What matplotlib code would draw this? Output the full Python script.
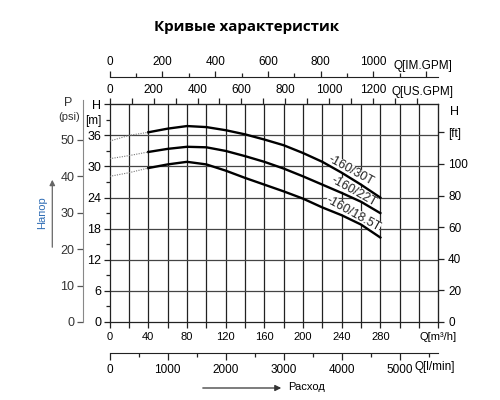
import matplotlib
matplotlib.use("Agg")
import matplotlib.pyplot as plt
from matplotlib.ticker import FixedLocator, FixedFormatter

plt.rcParams['font.family'] = ['Liberation Sans', 'DejaVu Sans']
plt.rcParams['font.size'] = 8

# данные кривых (Q в м3/ч, H в м)
q = [0, 20, 40, 60, 80, 100, 120, 140, 160, 180, 200, 220, 240, 260, 280]
h_30t = [34.9, 36.0, 36.6, 37.3, 37.8, 37.6, 37.0, 36.2, 35.2, 34.1, 32.6, 30.9, 28.8, 26.5, 24.0]
h_22t = [31.5, 32.1, 32.8, 33.4, 33.8, 33.7, 33.0, 32.0, 30.9, 29.6, 28.1, 26.5, 24.9, 23.2, 21.0]
h_185t = [28.1, 28.8, 29.7, 30.4, 30.9, 30.4, 29.2, 27.8, 26.5, 25.2, 23.8, 22.1, 20.6, 18.8, 16.3]
curve_names = ['-160/30T', '-160/22T', '-160/18.5T']
label_q = [249, 253, 252]
label_h = [29.2, 25.2, 20.9]

m_ticks = [0, 6, 12, 18, 24, 30, 36]
ft_ticks = [0, 20, 40, 60, 80, 100, 120]
ft_labels = ['0', '20', '40', '60', '80', '100', '[ft]']
psi_ticks = [0, 10, 20, 30, 40, 50]
q_labels = ['0', '', '40', '', '80', '', '120', '', '160', '', '200', '', '240', '', '280', '', '', 'Q[m³/h]']
usgpm_ticks = list(range(0, 1401, 200))
imgpm_ticks = list(range(0, 1201, 200))
lmin_ticks = list(range(0, 5001, 1000))

# коэффициенты пересчёта
M3H_USGPM = 4.4029
M3H_IMGPM = 3.6662
M3H_LMIN = 16.6667
M_FT = 3.28084
M_PSI = 1.42233

QMAX, HMAX = 340, 42
dark = '#222222'

fig = plt.figure(figsize=(5, 4), dpi=100)
ax = fig.add_axes([0.2194, 0.195, 0.6572, 0.5443])
ax.set_xlim(0, QMAX)
ax.set_ylim(0, HMAX)

# сетка
for x in range(20, QMAX, 20):
    ax.axvline(x, color=dark, lw=0.9, zorder=1)
for y in m_ticks[1:]:
    ax.axhline(y, color='#444444', lw=0.9, zorder=1)

# кривые
for h, name, lq, lh in zip([h_30t, h_22t, h_185t], curve_names, label_q, label_h):
    ax.plot(q[:3], h[:3], color='#777777', lw=0.8, ls=(0, (1, 1.2)), zorder=3)
    ax.plot(q[2:], h[2:], color='black', lw=1.7, zorder=4)
    ax.text(lq, lh, name, rotation=-29, rotation_mode='anchor', ha='center', va='center',
            fontsize=9, color=dark, zorder=3.5,
            bbox=dict(facecolor='white', edgecolor='none', pad=0.1))

for s in ax.spines.values():
    s.set_color(dark)
    s.set_linewidth(0.9)

# нижняя ось м3/ч
ax.set_xticks(range(0, QMAX + 1, 20))
ax.set_xticklabels(q_labels)
ax.tick_params(axis='x', direction='out', length=4, width=0.9, color=dark, pad=3, labelsize=8)

# левая ось H [m]
ax.yaxis.set_major_locator(FixedLocator(m_ticks + [42]))
ax.yaxis.set_major_formatter(FixedFormatter([str(v) for v in m_ticks] + ['H']))
ax.yaxis.set_minor_locator(FixedLocator([3, 9, 15, 21, 27, 33, 39]))
ax.yaxis.set_minor_formatter(FixedFormatter(['', '', '', '', '', '', '[m]']))
ax.tick_params(axis='y', which='major', direction='out', length=4, width=0.9, color=dark, pad=2, labelsize=9)
ax.tick_params(axis='y', which='minor', direction='out', length=3, width=0.9, color=dark, pad=3, labelsize=8.5)

# правая ось H [ft]
axr = ax.twinx()
axr.set_ylim(0, HMAX * M_FT)
axr.set_yticks(ft_ticks)
axr.set_yticklabels(ft_labels)
axr.tick_params(axis='y', direction='out', length=4, width=0.9, color=dark, pad=3, labelsize=8.5)
for k in ['top', 'left', 'bottom']:
    axr.spines[k].set_visible(False)
axr.spines['right'].set_color(dark)
axr.text(1.05, 0.965, 'H', transform=axr.transAxes, ha='center', va='center', fontsize=9)

# ось P (psi)
axp = ax.twinx()
axp.set_ylim(0, HMAX * M_PSI)
axp.yaxis.set_ticks_position('left')
axp.spines['left'].set_position(('outward', 19.5))
axp.spines['left'].set_bounds(0, 61)
axp.spines['left'].set_color('#888888')
for k in ['top', 'right', 'bottom']:
    axp.spines[k].set_visible(False)
axp.set_yticks(psi_ticks)
axp.tick_params(axis='y', direction='out', length=4, width=0.9, color='#555555', pad=2,
                labelsize=9, labelcolor='#333333')
axp.text(-0.127, 1.006, 'P', transform=axp.transAxes, ha='center', va='center', fontsize=9, color='#333333')
axp.text(-0.124, 0.943, '(psi)', transform=axp.transAxes, ha='center', va='center', fontsize=8, color='#333333')

# верхняя ось US.GPM
top_us = ax.secondary_xaxis('top', functions=(lambda x: x * M3H_USGPM, lambda x: x / M3H_USGPM))
top_us.set_xticks(usgpm_ticks)
top_us.set_xticklabels([str(v) for v in usgpm_ticks[:-1]] + [''])
top_us.xaxis.set_minor_locator(FixedLocator(range(100, 1401, 200)))
top_us.tick_params(which='major', direction='out', length=4, width=0.9, color=dark, pad=2, labelsize=8.5)
top_us.tick_params(which='minor', direction='out', length=4, width=0.9, color=dark)
top_us.spines['top'].set_color(dark)
ax.text(0.953, 1.055, 'Q[US.GPM]', transform=ax.transAxes, ha='center', va='center', fontsize=8.5)

# верхняя ось IM.GPM
top_im = ax.secondary_xaxis(1.127, functions=(lambda x: x * M3H_IMGPM, lambda x: x / M3H_IMGPM))
top_im.set_xticks(imgpm_ticks)
top_im.set_xticklabels([str(v) for v in imgpm_ticks[:-1]] + [''])
top_im.xaxis.set_minor_locator(FixedLocator(range(100, 1201, 200)))
top_im.tick_params(which='major', direction='out', length=4, width=0.9, color=dark, pad=2, labelsize=8.5)
top_im.tick_params(which='minor', direction='out', length=3, width=0.9, color=dark)
for s in top_im.spines.values():
    s.set_color(dark)
ax.text(0.953, 1.176, 'Q[IM.GPM]', transform=ax.transAxes, ha='center', va='center', fontsize=8.5)

# нижняя ось l/min
bot_l = ax.secondary_xaxis(-0.141, functions=(lambda x: x * M3H_LMIN, lambda x: x / M3H_LMIN))
bot_l.set_xticks(lmin_ticks)
bot_l.xaxis.set_minor_locator(FixedLocator(range(500, 5501, 1000)))
bot_l.tick_params(which='major', direction='out', length=5, width=0.9, color=dark, pad=3, labelsize=8.5)
bot_l.tick_params(which='minor', direction='out', length=3, width=0.9, color=dark)
for s in bot_l.spines.values():
    s.set_color(dark)
ax.text(0.99, -0.207, 'Q[l/min]', transform=ax.transAxes, ha='center', va='center', fontsize=8.5)

# подписи и стрелки
fig.text(0.494, 0.932, 'Кривые характеристик', ha='center', va='center',
         fontsize=10.9, fontweight='bold', family=['Open Sans', 'DejaVu Sans'])
fig.text(41.7 / 500, 1 - 213 / 400, 'Напор', rotation=90, ha='center', va='center',
         fontsize=8, color='#2f6db5')
ax.annotate('', xy=(52.3, 400 - 177), xytext=(52.3, 400 - 250),
            xycoords='figure pixels', textcoords='figure pixels',
            arrowprops=dict(arrowstyle='-|>', color='#666666', lw=0.9, mutation_scale=8))
fig.text(288 / 500, 1 - 387 / 400, 'Расход', ha='left', va='center', fontsize=8)
ax.annotate('', xy=(284, 400 - 388), xytext=(200, 400 - 388),
            xycoords='figure pixels', textcoords='figure pixels',
            arrowprops=dict(arrowstyle='-|>', color='#333333', lw=0.9, mutation_scale=9))

fig.savefig('out.png', dpi=100)
